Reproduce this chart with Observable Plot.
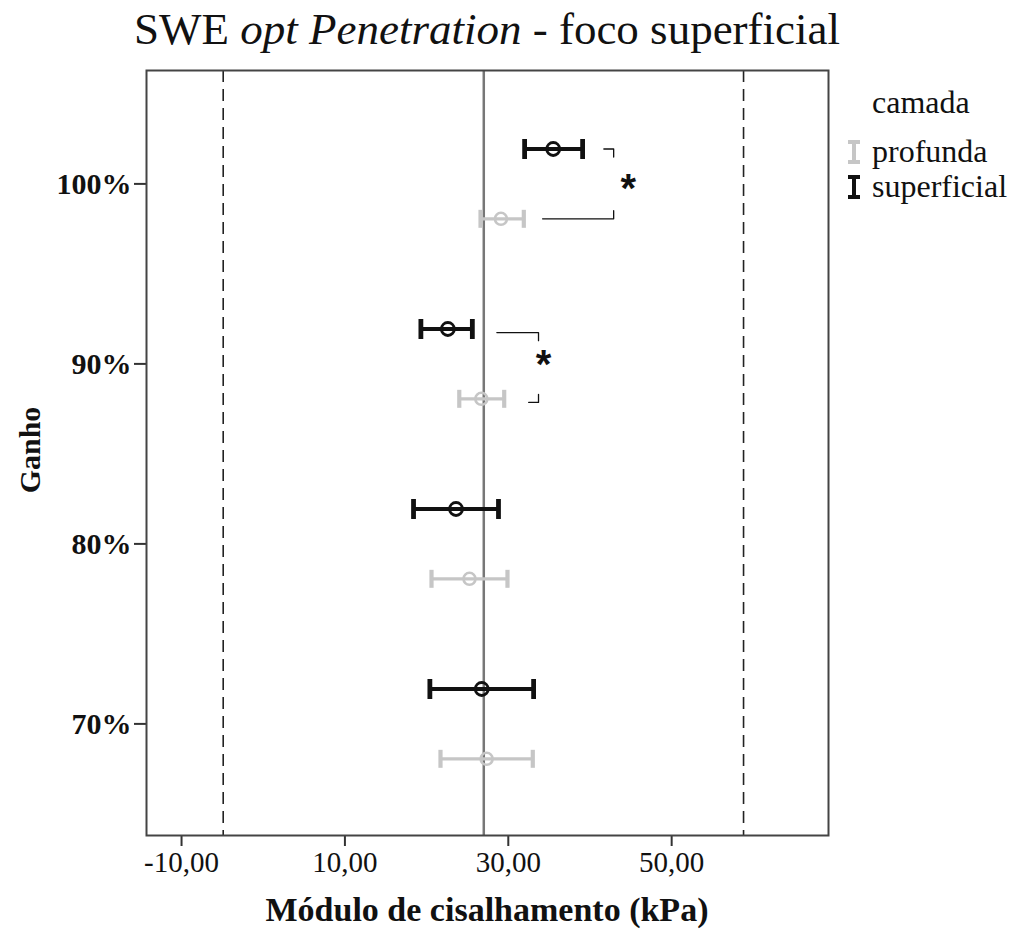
<!DOCTYPE html>
<html>
<head>
<meta charset="utf-8">
<script src="https://cdn.jsdelivr.net/npm/d3@7"></script>
<script src="https://cdn.jsdelivr.net/npm/@observablehq/plot@0.6"></script>
<style>
  body { margin: 0; background: #fff; }
  #wrap { position: relative; width: 1014px; height: 931px; font-family: "Liberation Serif", "Times New Roman", serif; color: #111; }
  #title { position: absolute; left: 0; top: 3px; width: 974px; text-align: center; font-size: 45px; white-space: nowrap; }
  #xlabel { position: absolute; left: 0; top: 891px; width: 974px; text-align: center; font-size: 34px; font-weight: bold; white-space: nowrap; }
  #ylabel { position: absolute; left: 30px; top: 450px; transform: translate(-50%, -50%) rotate(-90deg); font-size: 30px; font-weight: bold; white-space: nowrap; }
  #legend { position: absolute; left: 846px; top: 82px; font-size: 32px; }
  #legend .ttl { margin-left: 26px; line-height: 40px; margin-bottom: 12px; }
  #legend .item { display: flex; align-items: center; line-height: 35px; }
  #legend svg { margin-right: 10px; }
  #chart { position: absolute; left: 0; top: 0; }
</style>
</head>
<body>
<div id="wrap">
  <div id="chart"></div>
  <div id="title">SWE <i>opt Penetration</i> - foco superficial</div>
  <div id="ylabel">Ganho</div>
  <div id="xlabel">Módulo de cisalhamento (kPa)</div>
  <div id="legend"></div>
</div>
<script>
// ---- data ----
const ganho = [100, 90, 80, 70];
const camadas = ["profunda", "superficial"];
const supMean = [35.5, 22.6, 23.6, 26.75];
const supLow  = [32.0, 19.3, 18.4, 20.4];
const supHigh = [39.1, 25.6, 28.8, 33.1];
const profMean = [29.1, 26.7, 25.25, 27.35];
const profLow  = [26.6, 24.0, 20.6, 21.7];
const profHigh = [31.9, 29.5, 29.9, 33.0];
const refMean = 27.0;
const refLimits = [-4.9, 58.8];
const xTicks = [-10, 10, 30, 50];
const yTicks = [70, 80, 90, 100];
// significance brackets (x in kPa)
const bracketGanho = [100, 90];
const bracketTopFrom = [41.7, 28.6];
const bracketBottomFrom = [34.2, 32.5];
const bracketRight = [42.9, 33.7];
const starX = [44.7, 34.3];
const starGanho = [100, 90.22];

// ---- build ----
const colors = {profunda: "#c6c6c6", superficial: "#111111"};
const off = {superficial: 1.94, profunda: -1.94};
const rows = ganho.flatMap((g, i) => [
  {ganho: g, camada: "superficial", mean: supMean[i], lo: supLow[i], hi: supHigh[i]},
  {ganho: g, camada: "profunda", mean: profMean[i], lo: profLow[i], hi: profHigh[i]}
]);
const yOf = d => d.ganho + off[d.camada];
const drop = 0.45;
const bracketPts = bracketGanho.flatMap((g, i) => {
  const adj = i === 1 ? -0.2 : 0;
  const yt = g + off.superficial + adj, yb = g + off.profunda + adj;
  return [
    {id: "t" + i, x: bracketTopFrom[i], y: yt},
    {id: "t" + i, x: bracketRight[i], y: yt},
    {id: "t" + i, x: bracketRight[i], y: yt - drop},
    {id: "b" + i, x: bracketBottomFrom[i], y: yb},
    {id: "b" + i, x: bracketRight[i], y: yb},
    {id: "b" + i, x: bracketRight[i], y: yb + drop}
  ];
});
const stars = starGanho.map((g, i) => ({x: starX[i], y: g}));

const vbar = {draw(ctx, size) { const h = Math.sqrt(size / Math.PI); ctx.moveTo(0, -h); ctx.lineTo(0, h); }};
const fmt = d => d3.format(".2f")(d).replace(".", ",").replace("−", "-");

function layer(c, w, capR, dotR, dotW) {
  const data = rows.filter(d => d.camada === c);
  return [
    Plot.ruleY(data, {x1: "lo", x2: "hi", y: yOf, stroke: colors[c], strokeWidth: w}),
    Plot.dot(data, {x: "lo", y: yOf, symbol: vbar, r: capR, fill: "none", stroke: colors[c], strokeWidth: w + 1}),
    Plot.dot(data, {x: "hi", y: yOf, symbol: vbar, r: capR, fill: "none", stroke: colors[c], strokeWidth: w + 1}),
    Plot.dot(data, {x: "mean", y: yOf, r: dotR, fill: "none", stroke: colors[c], strokeWidth: dotW})
  ];
}

const chart = Plot.plot({
  width: 1014,
  height: 931,
  marginLeft: 146,
  marginRight: 186,
  marginTop: 70,
  marginBottom: 96,
  style: {fontFamily: "'Liberation Serif', 'Times New Roman', serif", background: "white", color: "#111"},
  x: {domain: [-14.29, 69.2]},
  y: {domain: [63.8, 106.3]},
  marks: [
    Plot.ruleX(refLimits, {stroke: "#222", strokeWidth: 1.6, strokeDasharray: "12,7"}),
    Plot.ruleX([refMean], {stroke: "#777", strokeWidth: 2.5}),
    ...layer("profunda", 3.2, 9, 6, 2.6),
    ...layer("superficial", 3.8, 10, 6.5, 2.8),
    Plot.line(bracketPts, {x: "x", y: "y", z: "id", stroke: "#111", strokeWidth: 1.3}),
    Plot.text(stars, {x: "x", y: "y", text: () => "*", fontSize: 40, fontWeight: "bold", fontFamily: "'Liberation Sans', sans-serif", dy: 5, fill: "#111"}),
    Plot.axisX({ticks: xTicks, tickFormat: fmt, tickSize: 11, tickPadding: 5, fontSize: 29, stroke: "#333", strokeWidth: 2, label: null}),
    Plot.axisY({ticks: yTicks, tickFormat: d => d + "%", tickSize: 12, tickPadding: 3, fontSize: 30, fontWeight: "bold", stroke: "#333", strokeWidth: 2, label: null}),
    Plot.frame({stroke: "#444", strokeWidth: 2})
  ]
});
document.getElementById("chart").appendChild(chart);

// legend
const leg = document.getElementById("legend");
const t = document.createElement("div");
t.className = "ttl"; t.textContent = "camada";
leg.appendChild(t);
camadas.forEach(c => {
  const it = document.createElement("div");
  it.className = "item";
  const col = colors[c];
  it.innerHTML = `<svg width="16" height="24"><path d="M2,2H14M8,2V22M2,22H14" stroke="${col}" stroke-width="4" fill="none"/></svg><span>${c}</span>`;
  leg.appendChild(it);
});
</script>
</body>
</html>
